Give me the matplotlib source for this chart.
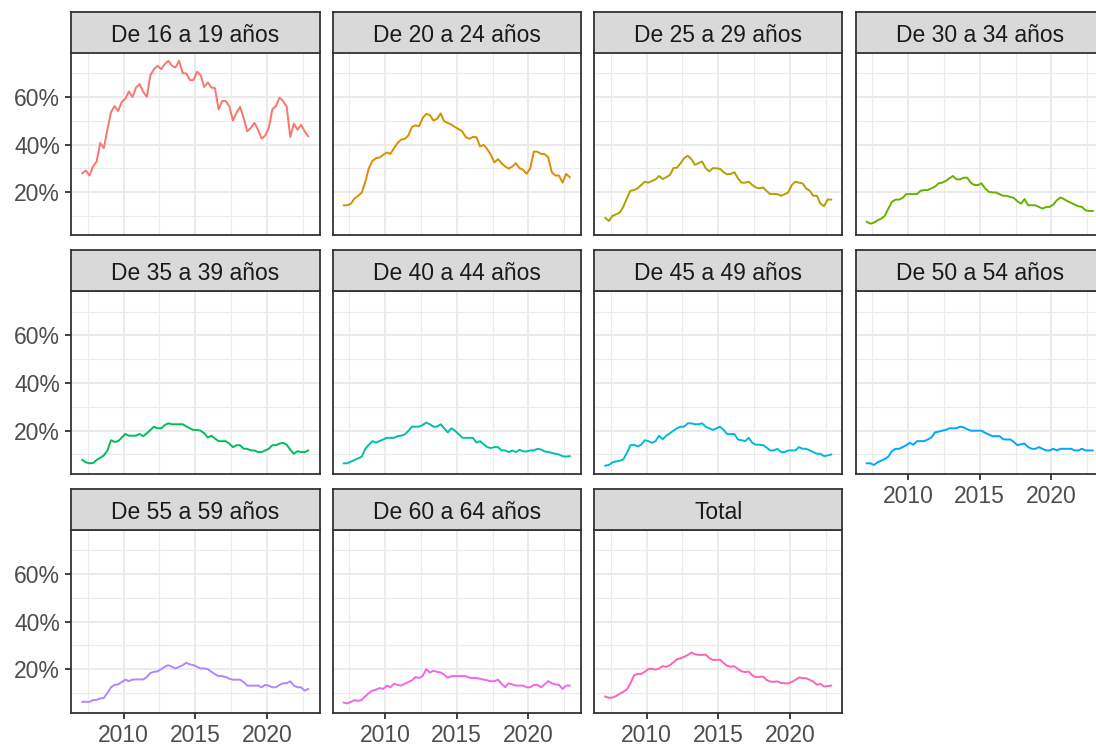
import numpy as np
import pandas as pd
import matplotlib
matplotlib.use("Agg")
import matplotlib.pyplot as plt
from matplotlib.ticker import MultipleLocator, PercentFormatter

plt.rcParams['font.family'] = ['Liberation Sans', 'DejaVu Sans']

# quarterly data, 2007T1 - 2022T4
quarters = pd.period_range('2007Q1', '2022Q4', freq='Q')

groups = ['De 16 a 19 años', 'De 20 a 24 años', 'De 25 a 29 años', 'De 30 a 34 años',
          'De 35 a 39 años', 'De 40 a 44 años', 'De 45 a 49 años', 'De 50 a 54 años',
          'De 55 a 59 años', 'De 60 a 64 años', 'Total']

g16_19 = [28, 29.1, 27, 30.8, 32.9, 40.7, 38.5, 46.3, 53.6, 56.2, 54.1, 57.9, 59.3, 62.3, 60, 64,
          65.4, 62.1, 60.1, 69.2, 71.7, 73.1, 71.7, 73.8, 75.2, 73.1, 72.4, 75.2, 70, 69.9, 67.1, 67.1,
          70.6, 69.2, 64.2, 66.1, 64, 63.7, 54.8, 58.3, 58.3, 56.2, 50.1, 53.4, 55.9, 51.2, 45.6, 47,
          49.1, 46.3, 42.5, 43.8, 47, 54.8, 56.2, 59.7, 58.3, 55.9, 43.2, 48.8, 46.3, 48.3, 45.6, 43.5]
g20_24 = [14.5, 14.5, 15.2, 17.4, 18.5, 19.8, 24.4, 30.1, 33.2, 34.3, 34.6, 35.7, 36.7, 36.1, 38.5, 40.7,
          42.1, 42.4, 43.8, 47.4, 48.1, 47.7, 51.2, 52.9, 52.4, 50.1, 50.8, 53.1, 49.8, 49.1, 48.4, 47.4,
          46.5, 45.6, 43.2, 42.4, 43.2, 43.1, 39.2, 39.9, 38.1, 35.7, 32.5, 33.9, 32.2, 30.8, 29.9, 30.8,
          32.2, 30.1, 29.4, 27.7, 30.1, 37.1, 37, 36.1, 36, 34.7, 28.4, 27, 27, 24, 27.7, 26.3]
g25_29 = [9.2, 7.9, 10, 10.7, 11.4, 13.8, 17.4, 20.6, 20.9, 21.6, 23, 24.4, 24, 24.7, 25.4, 26.8,
          25.5, 26.3, 27.2, 30.1, 30.3, 32.2, 34.3, 35.3, 33.9, 31.5, 32.2, 32.9, 30.1, 28.7, 30.1, 30.0,
          29.8, 28.4, 27.5, 27.7, 28.4, 25.8, 24, 24, 24.4, 23, 22, 21.6, 22, 20.5, 19.2, 19.2,
          19.2, 18.5, 19.1, 19.9, 23, 24.4, 24, 23.7, 21.6, 20.6, 18.5, 18.5, 15.2, 14.1, 16.9, 16.9]
g30_34 = [7.5, 6.8, 7.2, 8.2, 8.9, 10, 13.1, 15.9, 16.9, 16.9, 17.6, 19.2, 19.2, 19.2, 19.2, 20.6,
          20.9, 20.9, 21.6, 22.3, 23.7, 24, 24.7, 25.8, 26.8, 25.4, 25.4, 26.1, 26.1, 24, 23, 23,
          23.7, 21.6, 20.2, 19.9, 19.9, 19.2, 18.5, 18.5, 18.0, 17.6, 16.2, 15.2, 17.1, 14.5, 14.5, 14.5,
          13.8, 13.1, 13.8, 13.8, 14.8, 16.6, 17.8, 17.1, 16.2, 15.5, 14.8, 14.1, 13.8, 12.4, 12.1, 12.1]
g35_39 = [7.7, 6.7, 6.3, 6.4, 7.7, 8.6, 9.6, 11.7, 16, 15.3, 15.6, 17.1, 18.6, 17.9, 17.9, 17.9,
          18.6, 17.7, 18.9, 20.3, 21.7, 21, 21, 22.4, 23.1, 22.7, 22.7, 22.7, 22.7, 21.8, 21, 20.3,
          20.3, 20, 18.9, 17.1, 17.9, 16.7, 15.6, 15.6, 15.6, 14.6, 13.1, 13.9, 13.9, 12.4, 12.4, 11.7,
          11.7, 11, 11, 11.7, 12.4, 13.9, 13.9, 14.6, 14.9, 14.1, 12, 10.3, 11.4, 11, 11, 11.7]
g40_44 = [6.3, 6.3, 7, 7.7, 8.4, 9.1, 12.4, 14.1, 15.6, 15, 15.7, 16.3, 17, 17, 17, 17.7,
          17.9, 18.4, 19.9, 21.7, 21.7, 21.7, 22.4, 23.4, 22.7, 21.7, 21.7, 22.7, 21, 19.3, 21, 20,
          18.6, 17.1, 17, 17, 17, 15, 15.6, 14.3, 13.1, 12.7, 13.1, 13.1, 11.7, 11.7, 11, 11.7,
          11, 12, 11.3, 11.3, 11.7, 11.7, 12.4, 12.1, 11.3, 11, 10.7, 10.3, 10, 9.3, 9.1, 9.3]
g45_49 = [5.3, 5.6, 6.7, 7.1, 7.4, 7.9, 10.6, 13.9, 14.1, 13.4, 14.1, 16, 15.6, 14.9, 15.6, 17.9,
          16.4, 17.9, 18.9, 20, 21, 21.7, 21.7, 23.1, 23.1, 22.7, 22.7, 23.1, 21.7, 21, 20.3, 21.0,
          21.7, 20.3, 18.6, 18.6, 18.6, 16.3, 16, 15.6, 17, 14.9, 14.1, 14.1, 13.9, 12.9, 11.7, 11.7,
          12.4, 11, 11, 11.7, 11.7, 11.7, 13.1, 12.4, 12.4, 11.7, 11, 10.3, 10.3, 9.3, 9.6, 10]
g50_54 = [6.3, 6.3, 5.6, 6.7, 7.4, 8.1, 9.1, 11.4, 12.4, 12.4, 13.1, 13.9, 14.9, 14.1, 15.6, 15.6,
          15.6, 16.3, 17.1, 19.3, 19.6, 20, 20.3, 21, 21, 21, 21.7, 21.4, 20.6, 20, 20, 20,
          20.0, 19.1, 18.4, 17.7, 17.7, 17.7, 16.4, 16.3, 16.3, 15.3, 13.9, 14.3, 14.6, 13.1, 12.4, 12.4,
          13.1, 12.4, 11.7, 11.7, 12.4, 11.7, 12.4, 12.4, 12.4, 12.4, 11.7, 11.7, 12.4, 11.7, 11.7, 11.7]
g55_59 = [6.3, 6.3, 6.3, 7, 7.1, 7.7, 7.9, 10, 12.4, 13.4, 13.6, 14.6, 15.6, 15, 15.6, 15.7,
          15.7, 15.7, 16.7, 18.4, 18.9, 19.1, 20, 21, 21.7, 21, 20.3, 21, 21.7, 22.7, 22, 21.7,
          21.0, 20.3, 20.3, 20, 18.9, 17.9, 17.1, 17.1, 16.7, 16, 15.6, 15.6, 15.6, 14.6, 13.1, 13.1,
          13.1, 13.1, 12.4, 13.4, 13.1, 12.4, 12.4, 13.4, 14.1, 14.1, 14.9, 13.1, 12.4, 12.4, 11, 11.7]
g60_64 = [6, 5.6, 6.3, 7, 6.7, 7.1, 8.6, 10, 11, 11.4, 12.1, 11.7, 13.1, 12.4, 13.9, 13.4,
          13.1, 13.9, 14.6, 15.3, 16.7, 16.3, 17.1, 20, 18.6, 19.3, 18.9, 18.6, 17.7, 16.4, 17.1, 17.1,
          17.1, 17.1, 17.1, 16.4, 16.3, 16.3, 16, 15.6, 15.3, 14.9, 15, 15.6, 13.9, 12.4, 14.1, 13.6,
          13.1, 13.1, 13.1, 12.4, 12.4, 13.4, 13.4, 12.4, 13.6, 15, 14.1, 13.6, 13.4, 11.7, 13.1, 13.1]
total = [8.5, 8.0, 8.1, 8.7, 9.7, 10.5, 11.5, 14.0, 17.4, 18.0, 18.0, 18.9, 20.1, 20.2, 19.8, 20.3,
         21.3, 21.0, 21.7, 22.9, 24.2, 24.6, 25.2, 26.0, 27.0, 26.3, 26.0, 26.0, 26.1, 24.7, 23.9, 23.9,
         24.0, 22.6, 21.4, 21.1, 21.2, 20.1, 19.1, 18.8, 19.0, 17.4, 16.6, 16.8, 16.9, 15.5, 14.8, 14.7,
         14.9, 14.2, 14.1, 14.0, 14.6, 15.5, 16.5, 16.3, 16.2, 15.5, 14.8, 13.5, 13.8, 12.7, 12.9, 13.1]

series = [g16_19, g20_24, g25_29, g30_34, g35_39, g40_44, g45_49, g50_54, g55_59, g60_64, total]
colors = ['#F8766D', '#DB8E00', '#AEA200', '#64B200', '#00BD5C', '#00C1A7',
          '#00BADE', '#00A6FF', '#B385FF', '#EF67EB', '#FF63B6']

# decimal year at the middle of each quarter
x = quarters.year + (quarters.quarter - 0.5) / 4

allv = np.concatenate([np.array(s) for s in series])
ypad = (allv.max() - allv.min()) * 0.05
ylim = (allv.min() - ypad, allv.max() + ypad)
xpad = (x.max() - x.min()) * 0.05
xlim = (x.min() - xpad, x.max() + xpad)

W, H = 1096, 746
fig = plt.figure(figsize=(W / 100, H / 100), dpi=100)

lefts = [71, 332.5, 594, 855.5]
tops = [52.5, 291, 529.5]
pw, ph, sh = 248.5, 183, 41

for i, (name, vals, col) in enumerate(zip(groups, series, colors)):
    r, c = divmod(i, 4)
    l, t = lefts[c], tops[r]
    ax = fig.add_axes([l / W, 1 - (t + ph) / H, pw / W, ph / H])
    ax.plot(x, vals, color=col, lw=1.4)
    ax.set_xlim(xlim)
    ax.set_ylim(ylim)
    ax.xaxis.set_major_locator(MultipleLocator(5))
    ax.xaxis.set_minor_locator(MultipleLocator(5, offset=2.5))
    ax.yaxis.set_major_locator(MultipleLocator(20))
    ax.yaxis.set_minor_locator(MultipleLocator(20, offset=10))
    ax.yaxis.set_major_formatter(PercentFormatter(100, decimals=0))
    ax.grid(True, which='major', color='#EBEBEB', lw=1.4)
    ax.grid(True, which='minor', color='#EBEBEB', lw=0.8)
    ax.set_axisbelow(True)
    for sp in ax.spines.values():
        sp.set_color('#333333')
        sp.set_linewidth(1.3)
    ax.tick_params(which='major', length=4, width=1.3, color='#333333',
                   labelsize=16.5, labelcolor='#4D4D4D', pad=4)
    ax.tick_params(which='minor', length=0)
    # ticks only on the outer panels
    bottom = (i + 4 >= len(groups))
    ax.tick_params(axis='x', bottom=bottom, labelbottom=bottom)
    ax.tick_params(axis='y', left=(c == 0), labelleft=(c == 0))

    # strip on top
    sax = fig.add_axes([l / W, 1 - t / H, pw / W, sh / H])
    sax.set_facecolor('#D9D9D9')
    sax.set_xticks([])
    sax.set_yticks([])
    for sp in sax.spines.values():
        sp.set_color('#333333')
        sp.set_linewidth(1.3)
    sax.text(0.5, 0.42, name, ha='center', va='center', fontsize=16.5,
             color='#1A1A1A', transform=sax.transAxes)

fig.savefig('out.png', dpi=100)
